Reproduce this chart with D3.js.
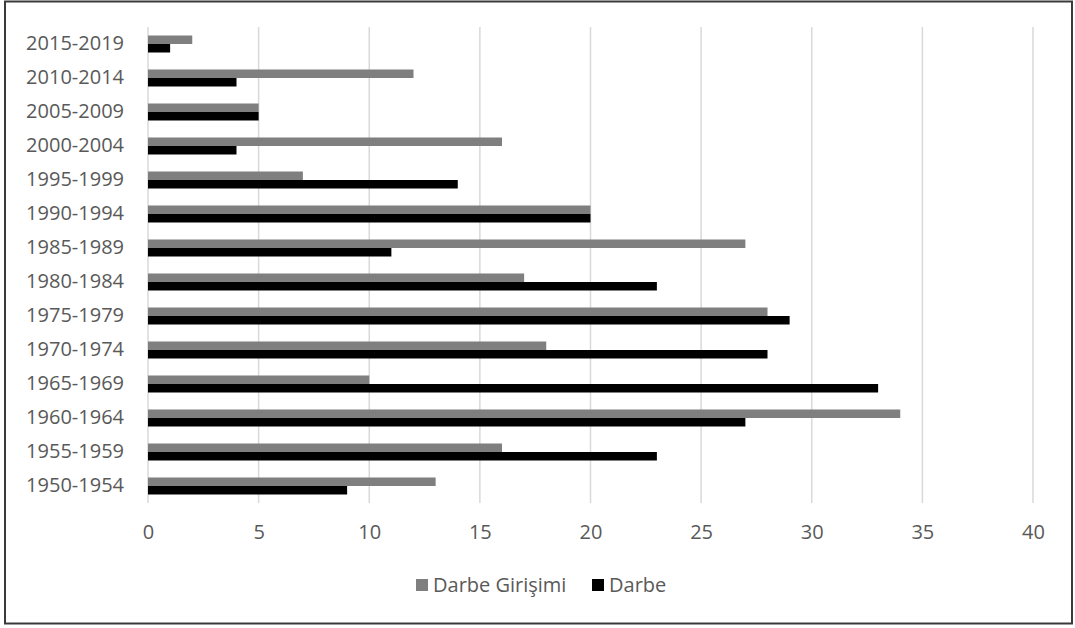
<!DOCTYPE html>
<html><head><meta charset="utf-8">
<script src="https://cdn.jsdelivr.net/npm/d3@7"></script>
<style>body{margin:0;background:#fff;} svg{display:block;}</style>
</head><body>
<svg id="chart" width="1075" height="628"></svg>
<script>
const categories = ["2015-2019","2010-2014","2005-2009","2000-2004","1995-1999","1990-1994","1985-1989","1980-1984","1975-1979","1970-1974","1965-1969","1960-1964","1955-1959","1950-1954"];
const girisimi = [2,12,5,16,7,20,27,17,28,18,10,34,16,13];
const darbe = [1,4,5,4,14,20,11,23,29,28,33,27,23,9];
const seriesNames = ["Darbe Girişimi","Darbe"];
const seriesColors = ["#7f7f7f","#000000"];
const xTicks = [0,5,10,15,20,25,30,35,40];

const svg = d3.select("#chart");
const font = "'Open Sans', sans-serif";
const textColor = "#595959";

svg.append("rect").attr("x",5).attr("y",1.5).attr("width",1067).attr("height",622)
  .attr("fill","#fff").attr("stroke","#3a3a3a").attr("stroke-width",2);

const x = d3.scaleLinear().domain([0,40]).range([148,1033]);
const y = d3.scaleBand().domain(categories).range([27,503]).paddingInner(0.5).paddingOuter(0.25);
const ys = d3.scaleBand().domain(seriesNames).range([0,y.bandwidth()]);

// gridlines
svg.append("g").selectAll("line").data(xTicks).join("line")
  .attr("x1",d=>x(d)).attr("x2",d=>x(d)).attr("y1",27).attr("y2",503)
  .attr("stroke","#d9d9d9").attr("stroke-width",1.5);

const data = categories.map((c,i)=>({c, vals:[girisimi[i], darbe[i]]}));
const g = svg.append("g");
data.forEach(d=>{
  d.vals.forEach((v,j)=>{
    g.append("rect").attr("x",x(0)).attr("y",y(d.c)+ys(seriesNames[j]))
      .attr("width",x(v)-x(0)).attr("height",ys.bandwidth())
      .attr("fill",seriesColors[j]);
  });
});

// y axis labels
const yAxis = d3.axisLeft(y).tickSize(0).tickPadding(0);
const ya = svg.append("g").attr("transform","translate(124,0)").call(yAxis);
ya.select(".domain").remove();
ya.selectAll("text").attr("fill",textColor).style("font-family",font).style("font-size","20px");

// x axis labels
const xAxis = d3.axisBottom(x).tickValues(xTicks).tickSize(0).tickPadding(0);
const xa = svg.append("g").attr("transform","translate(0,525)").call(xAxis);
xa.select(".domain").remove();
xa.selectAll("text").attr("fill",textColor).style("font-family",font).style("font-size","20px");

// legend
const legendItems = [{x:416,tx:433},{x:592,tx:609}];
legendItems.forEach((l,i)=>{
  svg.append("rect").attr("x",l.x).attr("y",579).attr("width",12).attr("height",12).attr("fill",seriesColors[i]);
  svg.append("text").attr("x",l.tx).attr("y",592).text(seriesNames[i])
    .attr("fill",textColor).style("font-family",font).style("font-size","20px");
});
</script>
</body></html>
